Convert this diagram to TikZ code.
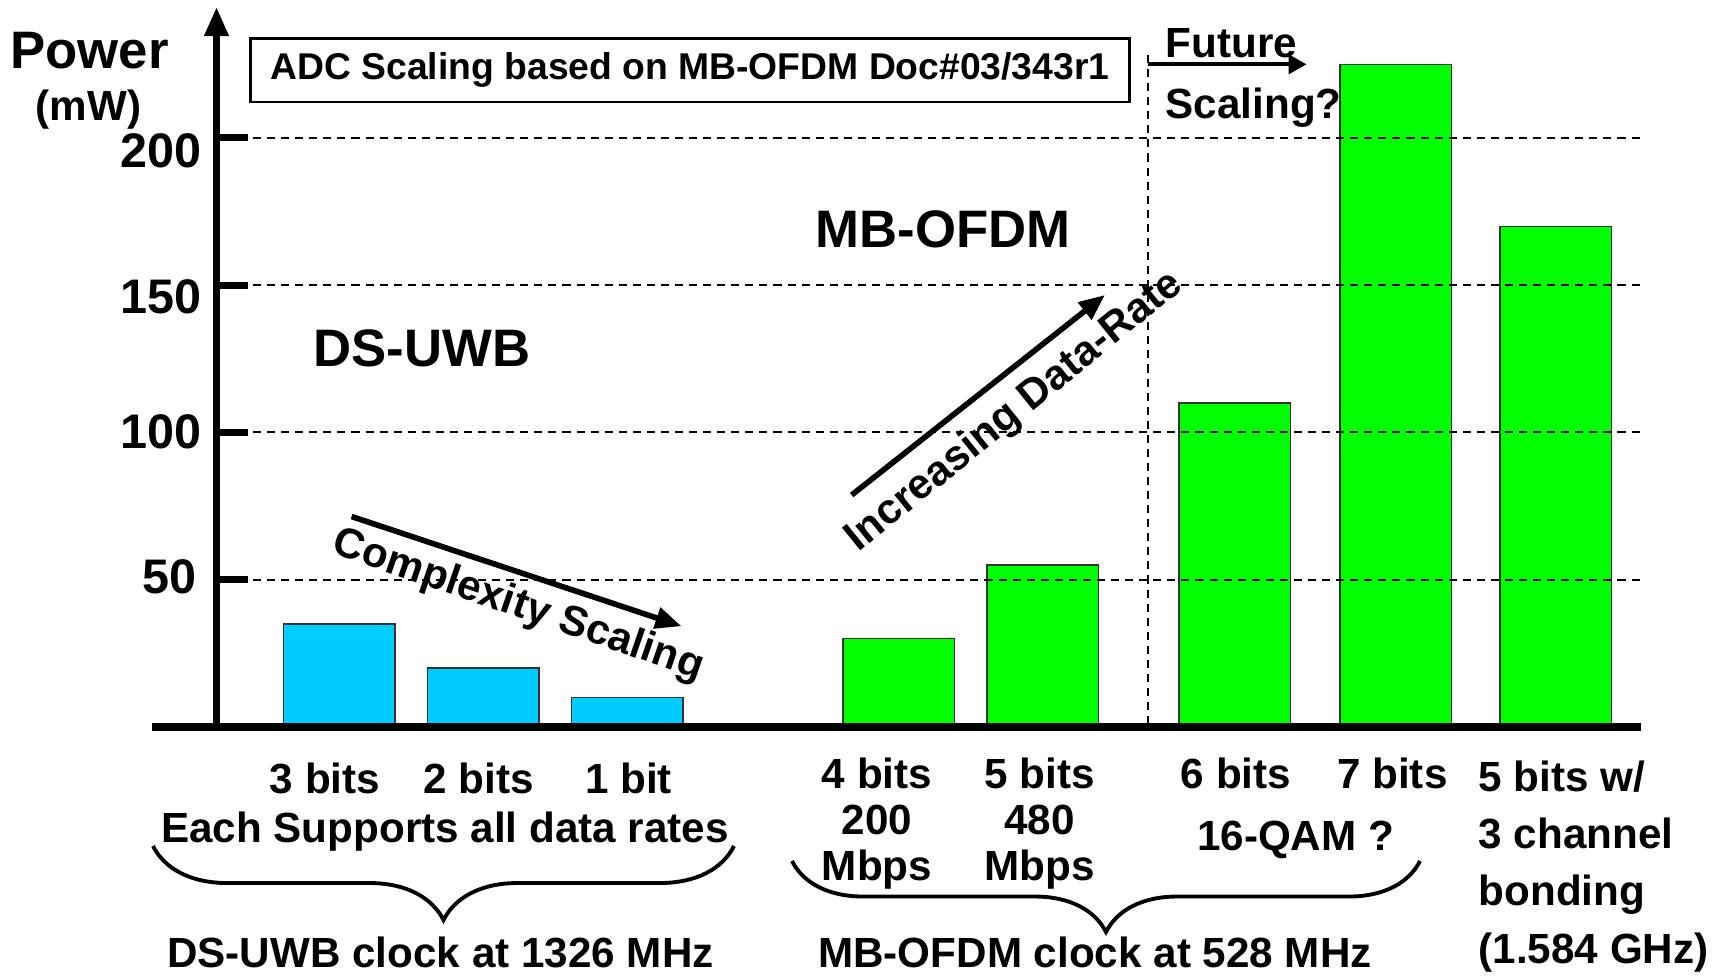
\documentclass[tikz,border=0pt]{standalone}
\usepackage{fontspec}
\setmainfont{Liberation Sans}
\usepackage{xcolor}
\usetikzlibrary{arrows.meta,decorations.pathreplacing}
\definecolor{dscyan}{RGB}{0,204,255}
\definecolor{mbgreen}{RGB}{0,255,0}

\begin{document}
\begin{tikzpicture}[x=0.01cm, y=-0.01cm,
    lbl/.style={inner sep=0pt, font=\fontsize{12}{13.1}\selectfont\bfseries},
    big/.style={inner sep=0pt, font=\fontsize{15}{17}\selectfont\bfseries},
    ticklbl/.style={inner sep=0pt, anchor=base east, font=\fontsize{13.8}{15}\selectfont\bfseries},
    bar/.style={draw=black!80, line width=0.35pt},
    gridline/.style={line width=0.6pt, dash pattern=on 2.3pt off 1.7pt},
    axis/.style={line width=2pt},
    arr/.style={-{Triangle[length=0.26cm, width=0.21cm]}, line width=1.6pt},
    brc/.style={decorate, decoration={brace, mirror, amplitude=0.74cm}, line width=1.1pt}
]
\useasboundingbox (0,0) rectangle (1723,975);

% bars (left edge / power in mW / colour)
\foreach \x/\h/\c in {283.5/35/dscyan, 427.5/20/dscyan, 571.5/10/dscyan,
                      843/30/mbgreen, 987/55/mbgreen, 1179/110/mbgreen,
                      1340/225/mbgreen, 1500/170/mbgreen}
  \draw[bar, fill=\c] (\x,727) rectangle ++(111.5,{-\h*2.946});

% grid and ticks
\foreach \v in {50,100,150,200} {
  \draw[gridline] (253,{727-\v*2.946}) -- (1643,{727-\v*2.946});
  \draw[axis] (216.5,{727-\v*2.946}) -- (248,{727-\v*2.946});
}
\draw[gridline] (1148,55) -- (1148,727);

% axes
\coordinate (origin) at (216.5,727);
\coordinate (ytop) at (216.5,7);
\coordinate (xleft) at (152,727);
\coordinate (xright) at (1641,727);
\draw[axis] (xleft) -- (xright);
\draw[axis, -{Triangle[length=0.29cm, width=0.23cm]}] (origin) -- (ytop);

\node[big, anchor=base] (power) at (89.5,68) {Power};
\node[lbl, anchor=base] (unit) at (88.5,120) {(mW)};
\node[ticklbl] (t200) at (202,167) {200};
\node[ticklbl] (t150) at (202,313) {150};
\node[ticklbl] (t100) at (202,448) {100};
\node[ticklbl] (t50) at (197,593) {50};

\node[draw, line width=0.8pt, minimum width=8.79cm, minimum height=0.635cm, inner sep=0pt,
      font=\fontsize{10.6}{12}\selectfont\bfseries] (title) at (690,70.3)
      {ADC Scaling based on MB-OFDM Doc\#03/343r1};

% future scaling
\coordinate (fut-a) at (1148,64.3);
\coordinate (fut-b) at (1306.6,64.3);
\draw[line width=1.2pt, -{Triangle[length=0.18cm, width=0.19cm]}] (fut-a) -- (fut-b);
\node[lbl, anchor=base west] (future) at (1165,57) {Future};
\node[lbl, anchor=base west] (scalq) at (1165,118.7) {Scaling?};

\node[big, anchor=base] (dsuwb) at (422,366) {DS-UWB};
\node[big, anchor=base] (mbofdm) at (943.4,247) {MB-OFDM};

% trend arrows
\coordinate (cx-a) at (351.6,516.5);
\coordinate (cx-b) at (681.5,626.2);
\draw[arr] (cx-a) -- (cx-b);
\node[lbl, rotate=-19] (cx) at (518,606) {Complexity Scaling};
\coordinate (dr-a) at (851.7,495);
\coordinate (dr-b) at (1105,295);
\draw[arr] (dr-a) -- (dr-b);
\node[lbl, rotate=39] (dr) at (1015,412) {Increasing Data-Rate};

% bar labels
\node[lbl, anchor=base] (b3) at (325,793) {3 bits};
\node[lbl, anchor=base] (b2) at (478.6,793) {2 bits};
\node[lbl, anchor=base] (b1) at (628.6,793) {1 bit};
\node[lbl, anchor=base] (each) at (445,842) {Each Supports all data rates};
\node[lbl, align=center, anchor=north] (b4) at (877,757) {4 bits\\200\\Mbps};
\node[lbl, align=center, anchor=north] (b5) at (1039.6,757) {5 bits\\480\\Mbps};
\node[lbl, anchor=base] (b6) at (1236,788) {6 bits};
\node[lbl, anchor=base] (b7) at (1392.4,788) {7 bits};
\node[lbl, anchor=base] (qam) at (1295.6,850) {16-QAM ?};
\node[lbl, align=left, anchor=north west, font=\fontsize{12}{16.3}\selectfont\bfseries] (bond)
      at (1478,760) {5 bits w/\\3 channel\\bonding\\(1.584 GHz)};

% braces
\coordinate (ds-l) at (153,846);
\coordinate (ds-r) at (734,846);
\draw[brc] (ds-l) -- (ds-r);
\coordinate (mb-l) at (792,861);
\coordinate (mb-r) at (1420,861);
\draw[brc, decoration={amplitude=0.71cm}] (mb-l) -- (mb-r);
\node[lbl, anchor=base] (dsclk) at (440.5,967) {DS-UWB clock at 1326 MHz};
\node[lbl, anchor=base] (mbclk) at (1095,967) {MB-OFDM clock at 528 MHz};
\end{tikzpicture}
\end{document}
